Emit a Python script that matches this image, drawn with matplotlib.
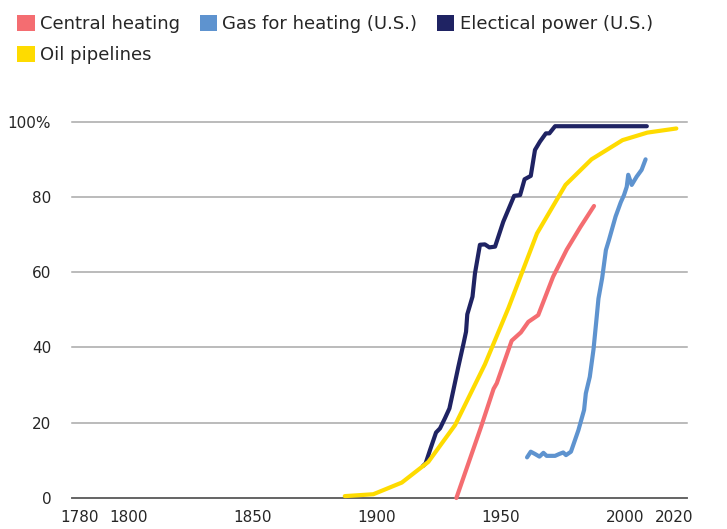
import matplotlib
matplotlib.use("Agg")
import matplotlib.pyplot as plt
from matplotlib.patches import Patch

plt.rcParams['font.family'] = ['DejaVu Sans']

# ---- data ----
central_years = [1932, 1942, 1947, 1948.3, 1954.3, 1958, 1961, 1965, 1971, 1976.5, 1982, 1987.5]
central_vals = [0, 19, 29, 30.5, 41.8, 44, 46.8, 48.6, 58.8, 66, 72, 77.6]

gas_years = [1960.5, 1962, 1963.7, 1965.5, 1967.1, 1968.4, 1971.8, 1973.5, 1975.1, 1976.2,
             1978.2, 1981.2, 1983.5, 1984.2, 1985.8, 1987.3, 1988.6, 1989.3, 1990.8, 1992.3,
             1993.5, 1996.2, 1998.3, 1999.6, 2000.7, 2001.3, 2002.7, 2004.7, 2006.7, 2008.3]
gas_vals = [10.8, 12.3, 11.7, 11.0, 12.0, 11.2, 11.2, 11.7, 12.1, 11.4,
            12.3, 18.0, 23.4, 27.8, 32.2, 39.5, 48.2, 53.0, 58.5, 65.9,
            68.5, 74.8, 78.6, 80.5, 82.7, 85.9, 83.2, 85.4, 87.2, 90.0]

elec_years = [1918.5, 1919.6, 1921.4, 1923.8, 1925.4, 1927.4, 1929.2, 1930.8, 1932.8, 1934.9,
              1935.9, 1936.4, 1938.5, 1939.5, 1941.5, 1943.5, 1945.3, 1947.6, 1950.9, 1955.3,
              1957.7, 1959.5, 1962.0, 1963.7, 1965.7, 1968.1, 1969.5, 1971.8, 2008.8]
elec_vals = [8.5, 9.2, 12.8, 17.4, 18.5, 21.2, 23.8, 28.7, 34.9, 41.1,
             44.2, 48.8, 53.5, 59.7, 67.3, 67.4, 66.6, 66.8, 73.4, 80.3,
             80.5, 84.7, 85.6, 92.5, 94.7, 96.9, 96.9, 98.8, 98.8]

oil_years = [1887, 1898.5, 1910, 1920.7, 1931.5, 1943.5, 1953, 1964.5, 1976, 1986.5, 1999, 2009, 2020.7]
oil_vals = [0.5, 1.0, 4.1, 9.6, 19.4, 35.5, 50.5, 70.3, 83.2, 90.0, 95.1, 97.1, 98.2]

labels = ["Central heating", "Gas for heating (U.S.)", "Electical power (U.S.)", "Oil pipelines"]
colors = ["#F46D71", "#5E93CF", "#1F2363", "#FEDB00"]

x_ticks = [1780, 1800, 1850, 1900, 1950, 2000, 2020]
y_ticks = [0, 20, 40, 60, 80, 100]
y_ticklabels = ["0", "20", "40", "60", "80", "100%"]

# ---- figure ----
fig = plt.figure(figsize=(7.27, 5.29), dpi=100)
ax = fig.add_axes([72 / 727, 1 - 498 / 529, (687 - 72) / 727, (498 - 121.7) / 529])

lw = 3.0
series = [(central_years, central_vals), (gas_years, gas_vals),
          (elec_years, elec_vals), (oil_years, oil_vals)]
zord = [3, 3, 3, 4]
for i, (xs, ys) in enumerate(series):
    ax.plot(xs, ys, color=colors[i], lw=lw, solid_capstyle='round',
            solid_joinstyle='round', zorder=zord[i], clip_on=False)

ax.set_xlim(1777, 2025)
ax.set_ylim(0, 100)
ax.set_xticks(x_ticks)
ax.set_xticklabels([str(t) for t in x_ticks])
ax.set_yticks(y_ticks)
ax.set_yticklabels(y_ticklabels)

for s in ["top", "right", "left"]:
    ax.spines[s].set_visible(False)
ax.spines["bottom"].set_color("#5f5f5f")
ax.spines["bottom"].set_linewidth(1.3)
ax.spines["bottom"].set_zorder(2)

ax.yaxis.grid(True, color="#A8A8A8", lw=1.1, zorder=1)
for gl in ax.get_ygridlines():
    gl.set_clip_on(False)
ax.set_axisbelow(True)
ax.tick_params(axis='both', length=0, labelsize=11, labelcolor="#262626")
ax.tick_params(axis='y', pad=15)
ax.tick_params(axis='x', pad=9)

handles = [Patch(facecolor=c, edgecolor='none') for c in colors]
# row-major arrangement: A B C / D -> column-major order A, D, B, C
ho = [handles[0], handles[3], handles[1], handles[2]]
lo = [labels[0], labels[3], labels[1], labels[2]]
fig.legend(ho, lo, loc='upper left', bbox_to_anchor=(3 / 727, 1 - 1 / 529),
           ncol=3, frameon=False, fontsize=13, handlelength=0.95, handleheight=0.95,
           handletextpad=0.3, columnspacing=1.1, labelspacing=0.72,
           labelcolor="#262626", borderpad=0.3)

fig.savefig("out.png", dpi=100)
